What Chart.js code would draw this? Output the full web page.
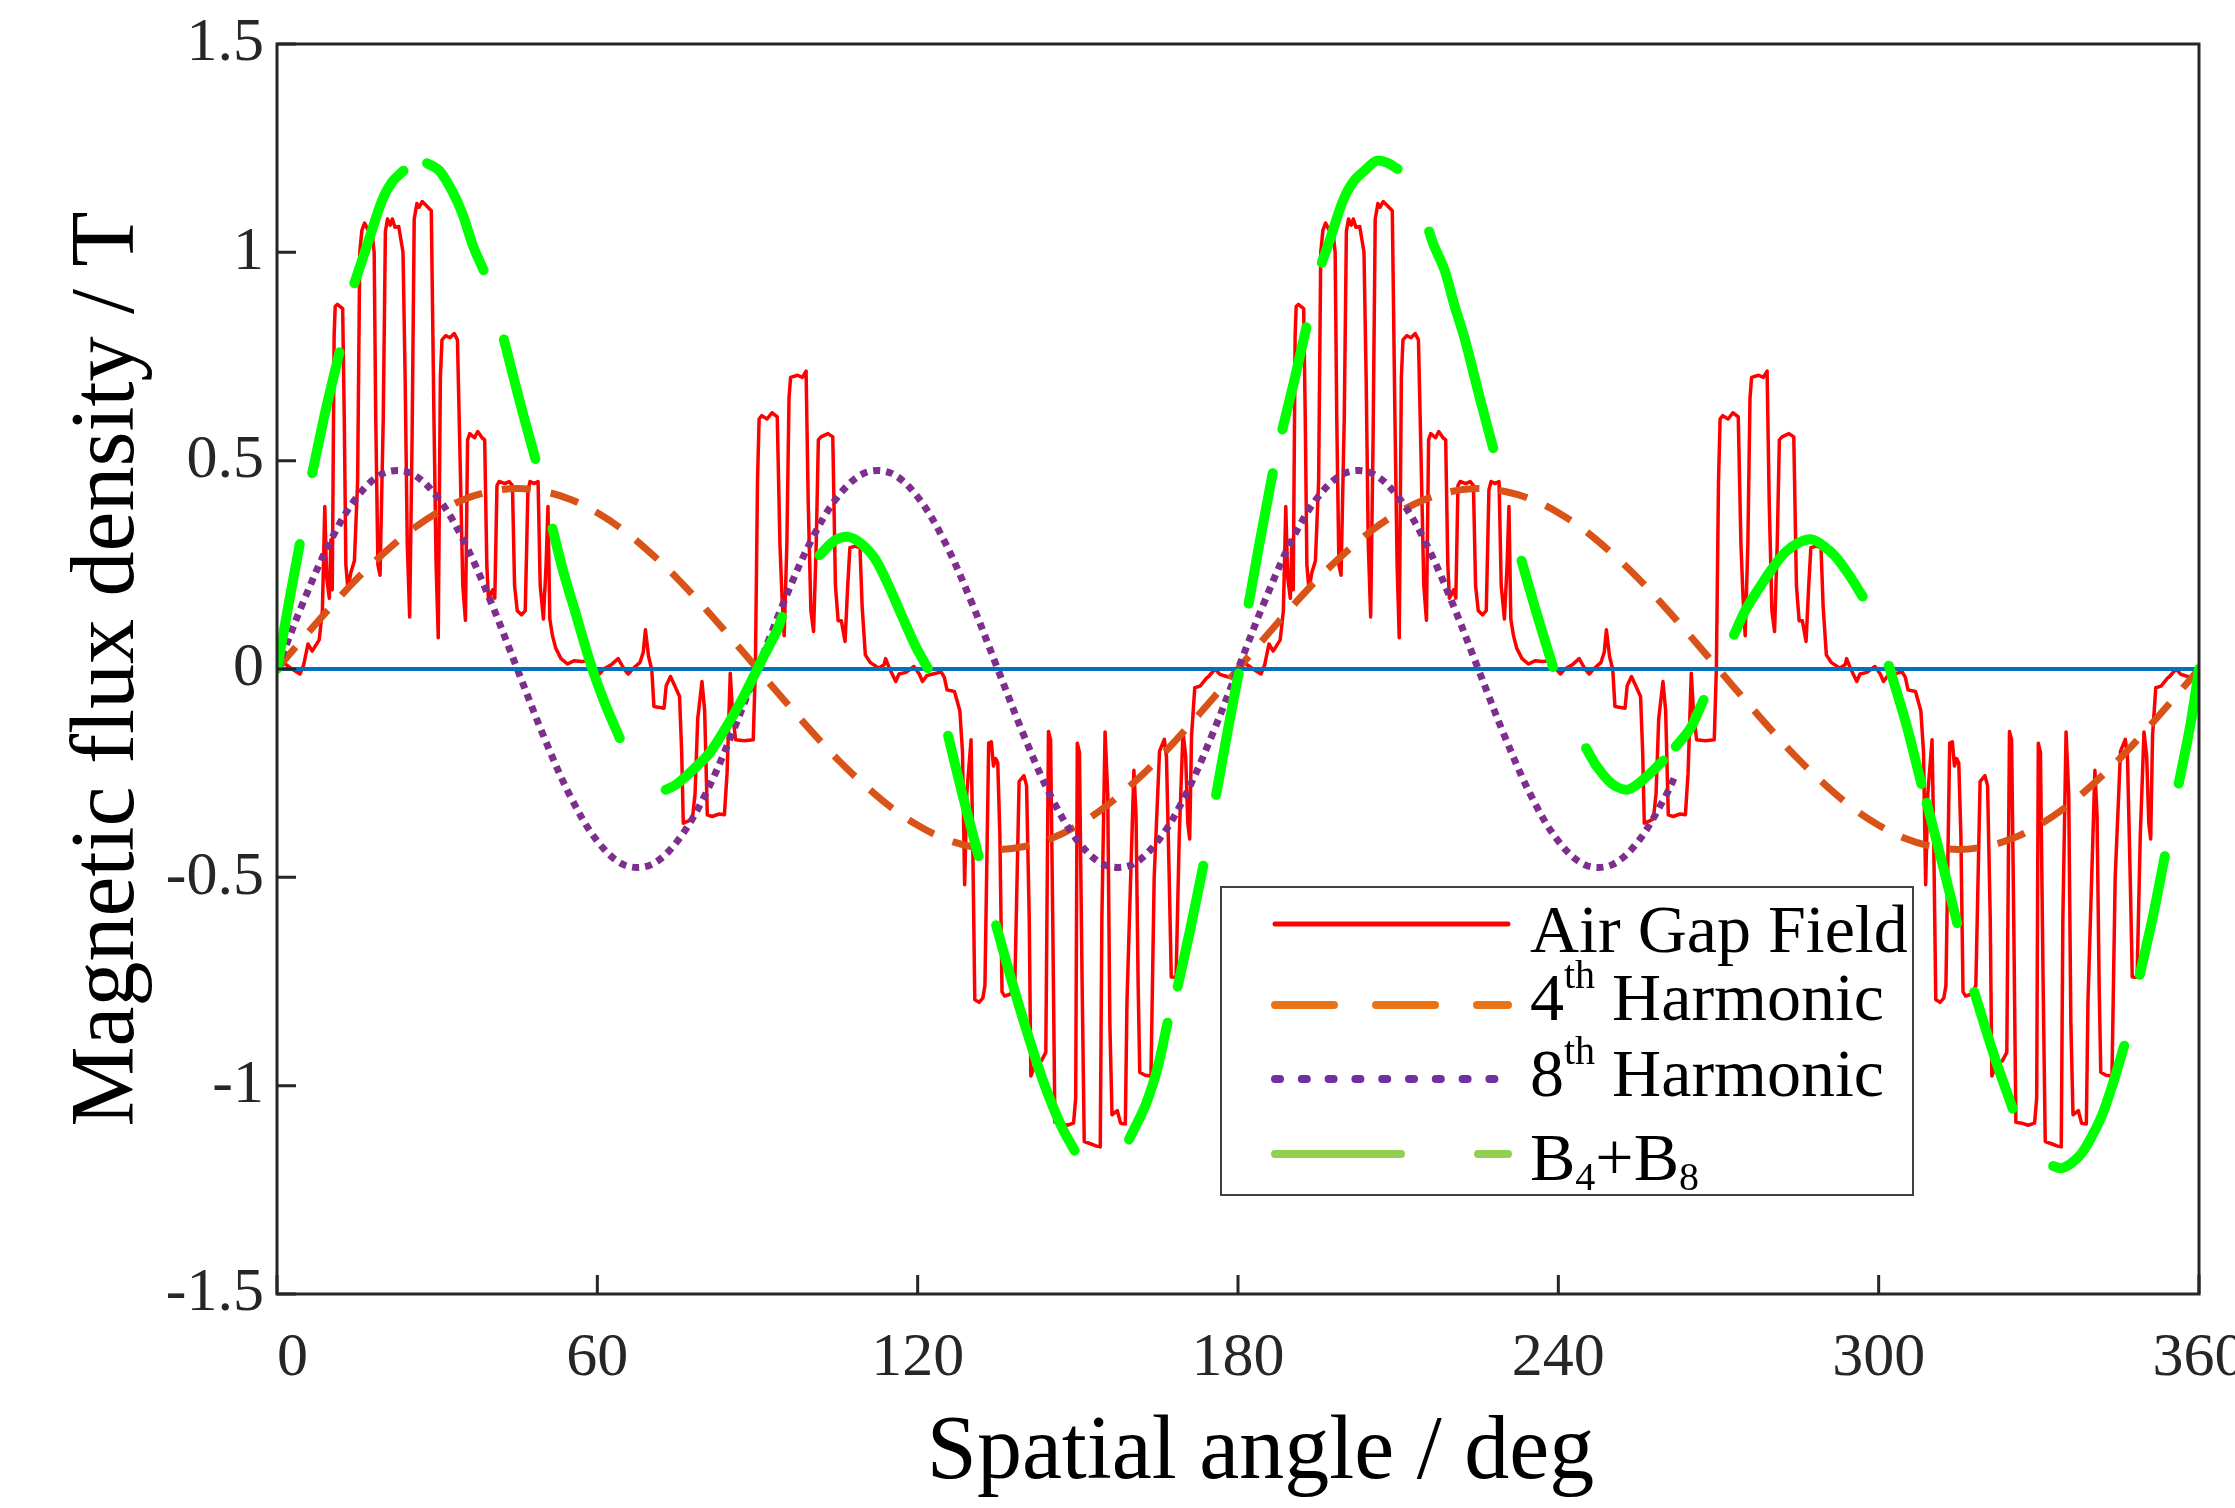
<!DOCTYPE html>
<html>
<head>
<meta charset="utf-8">
<title>Air gap flux density and harmonics</title>
<script src="https://cdn.jsdelivr.net/npm/chart.js@4.4.1/dist/chart.umd.min.js"></script>
<style>
  html, body { margin: 0; padding: 0; background: #fff; }
  #wrap { width: 2235px; height: 1508px; }
</style>
</head>
<body>
<div id="wrap"><canvas id="fluxChart" width="2235" height="1508"></canvas></div>
<script>
// spatial angle in deg, flux density in T
const xTicks = [0, 60, 120, 180, 240, 300, 360];
const yTicks = [-1.5, -1, -0.5, 0, 0.5, 1, 1.5];

// air gap field (0-180 then 180-360)
const gapAngle = [
  0,1.2,2.8,4.3,5,5.8,6.6,7.9,8.5,8.95,9.3,9.8,10.1,10.35,10.7,10.9,11.3,12.3,12.6,12.9,
  13.3,13.8,14.5,15.1,15.5,15.9,16.4,17,17.7,18.2,18.5,18.9,19.3,19.9,20.3,20.7,21.2,21.6,22.1,22.8,
  23.6,24,24.4,24.85,25.3,25.7,26.2,26.6,27.2,28,28.9,29.4,29.8,30.2,30.6,30.9,31.6,32.4,33.2,33.8,
  34.3,34.8,35.3,35.7,36.1,37,37.6,38.4,38.9,39.3,39.6,40.4,40.8,41.2,41.6,42.7,43.5,44.1,44.5,45,
  45.8,46.5,47,47.4,48.2,48.9,49.3,49.9,50.4,50.75,51.1,51.6,52.2,53.2,54.4,55.7,57,58.8,59.6,60.4,
  61.2,62.6,63.9,65,65.8,66.6,68,68.6,69,69.6,70.2,70.6,72.5,72.9,73.7,74.5,75.4,75.8,76.1,77,
  77.8,78.3,78.8,79.6,80.1,80.6,81.5,82.8,83.8,84.3,84.9,85.3,85.9,87.5,89.2,89.6,90,90.3,90.8,91.8,
  92.7,93.7,94.2,94.6,95,95.5,95.9,96.2,97.5,98.4,99.1,99.5,100,100.5,101,101.4,101.9,103.2,104.1,104.6,
  105.1,105.7,106.4,106.9,107.3,108.3,109.2,109.6,110.2,111.1,112.7,113.7,114,114.6,115.9,116.5,117.8,119.3,120.3,120.9,
  121.7,122.9,124.4,125,125.5,126.9,127.9,128.4,128.8,129.2,130,130.3,130.7,131.5,132.2,132.6,133.3,133.8,134.2,134.6,
  135,135.4,135.8,136.3,137.4,138.2,139,139.9,140.4,140.9,141.2,142,143.2,144,144.5,144.9,145.3,145.7,146.8,148,
  149.2,149.6,149.9,150.3,150.8,151.2,152.5,153.5,154.2,154.5,155.1,155.6,156,156.4,157.4,158,158.9,159.2,160.5,160.9,
  161.3,161.6,162.6,163.7,164.3,165.3,166.2,166.6,167.1,167.5,168.4,169,169.7,170.2,170.6,170.95,171.3,171.9,172.9,174.1,
  174.5,175.7,176.6,177.9,178.9,179.5,180,
  181.2,182.8,184.3,185,185.8,186.6,187.9,188.5,188.95,189.3,189.8,190.1,190.35,190.7,190.9,191.3,192.3,192.6,192.9,
  193.3,193.8,194.5,195.1,195.5,195.9,196.4,197,197.7,198.2,198.5,198.9,199.3,199.9,200.3,200.7,201.2,201.6,202.1,202.8,
  203.6,204,204.4,204.85,205.3,205.7,206.2,206.6,207.2,208,208.9,209.4,209.8,210.2,210.6,210.9,211.6,212.4,213.2,213.8,
  214.3,214.8,215.3,215.7,216.1,217,217.6,218.4,218.9,219.3,219.6,220.4,220.8,221.2,221.6,222.7,223.5,224.1,224.5,225,
  225.8,226.5,227,227.4,228.2,228.9,229.3,229.9,230.4,230.75,231.1,231.6,232.2,233.2,234.4,235.7,237,238.8,239.6,240.4,
  241.2,242.6,243.9,245,245.8,246.6,248,248.6,249,249.6,250.2,250.6,252.5,252.9,253.7,254.5,255.4,255.8,256.1,257,
  257.8,258.3,258.8,259.6,260.1,260.6,261.5,262.8,263.8,264.3,264.9,265.3,265.9,267.5,269.2,269.6,270,270.3,270.8,271.8,
  272.7,273.7,274.2,274.6,275,275.5,275.9,276.2,277.5,278.4,279.1,279.5,280,280.5,281,281.4,281.9,283.2,284.1,284.6,
  285.1,285.7,286.4,286.9,287.3,288.3,289.2,289.6,290.2,291.1,292.7,293.7,294,294.6,295.9,296.5,297.8,299.3,300.3,300.9,
  301.7,302.9,304.4,305,305.5,306.9,307.9,308.4,308.8,309.2,310,310.3,310.7,311.5,312.2,312.6,313.3,313.8,314.2,314.6,
  315,315.4,315.8,316.3,317.4,318.2,319,319.9,320.4,320.9,321.2,322,323.2,324,324.5,324.9,325.3,325.7,326.8,328,
  329.2,329.6,329.9,330.3,330.8,331.2,332.5,333.5,334.2,334.5,335.1,335.6,336,336.4,337.4,338,338.9,339.2,340.5,340.9,
  341.3,341.6,342.6,343.7,344.3,345.3,346.2,346.6,347.1,347.5,348.4,349,349.7,350.2,350.6,350.95,351.3,351.9,352.9,354.1,
  354.5,355.7,356.6,357.9,358.9,359.5,360
];
const gapField = [
  0,0.015,0,-0.012,0.01,0.06,0.043,0.07,0.14,0.39,0.22,0.17,0.31,0.19,0.8,0.87,0.875,0.865,0.6,0.25,
  0.19,0.23,0.26,0.45,1,1.053,1.07,1.055,1.06,1,0.6,0.25,0.225,0.6,1.05,1.08,1.065,1.08,1.06,1.062,
  1,0.7,0.3,0.125,0.55,1.08,1.117,1.108,1.122,1.112,1.1,0.6,0.25,0.075,0.7,0.79,0.8,0.795,0.805,0.79,
  0.5,0.2,0.117,0.55,0.565,0.555,0.57,0.555,0.55,0.25,0.17,0.19,0.17,0.44,0.45,0.445,0.45,0.44,0.2,0.14,
  0.13,0.14,0.43,0.45,0.445,0.45,0.2,0.12,0.25,0.39,0.12,0.08,0.05,0.025,0.012,0.02,0.018,0.02,0,-0.012,
  0,0.01,0.025,0,-0.012,0,0.016,0.04,0.094,0.03,-0.002,-0.09,-0.094,-0.04,-0.018,-0.04,-0.066,-0.2,-0.37,-0.365,
  -0.36,-0.3,-0.12,-0.03,-0.1,-0.35,-0.354,-0.348,-0.35,-0.25,-0.01,-0.1,-0.17,-0.172,-0.17,0,0.45,0.6,0.608,0.6,
  0.615,0.605,0.3,0.17,0.08,0.3,0.65,0.7,0.705,0.7,0.715,0.4,0.14,0.09,0.3,0.55,0.557,0.565,0.557,0.2,
  0.116,0.116,0.066,0.2,0.291,0.295,0.291,0.15,0.034,0.016,0.002,0.01,0.025,0.005,-0.03,-0.012,-0.008,0.006,-0.012,-0.03,
  -0.016,-0.012,-0.007,-0.02,-0.05,-0.054,-0.1,-0.2,-0.518,-0.3,-0.17,-0.4,-0.794,-0.8,-0.79,-0.76,-0.178,-0.175,-0.233,-0.215,
  -0.225,-0.4,-0.775,-0.785,-0.78,-0.76,-0.27,-0.256,-0.28,-0.6,-0.977,-0.95,-0.94,-0.92,-0.15,-0.17,-0.6,-1.088,-1.09,-1.095,
  -1.09,-1.03,-0.178,-0.2,-0.75,-1.134,-1.14,-1.145,-1.147,-0.6,-0.151,-0.3,-0.85,-1.07,-1.06,-1.09,-1.092,-0.8,-0.243,-0.35,
  -0.76,-0.968,-0.975,-0.977,-0.5,-0.197,-0.169,-0.21,-0.49,-0.739,-0.74,-0.4,-0.151,-0.21,-0.371,-0.408,-0.16,-0.045,-0.041,-0.022,
  -0.018,0,-0.013,-0.018,-0.022,-0.008,0,
  0.015,0,-0.012,0.01,0.06,0.043,0.07,0.14,0.39,0.22,0.17,0.31,0.19,0.8,0.87,0.875,0.865,0.6,0.25,
  0.19,0.23,0.26,0.45,1,1.053,1.07,1.055,1.06,1,0.6,0.25,0.225,0.6,1.05,1.08,1.065,1.08,1.06,1.062,
  1,0.7,0.3,0.125,0.55,1.08,1.117,1.108,1.122,1.112,1.1,0.6,0.25,0.075,0.7,0.79,0.8,0.795,0.805,0.79,
  0.5,0.2,0.117,0.55,0.565,0.555,0.57,0.555,0.55,0.25,0.17,0.19,0.17,0.44,0.45,0.445,0.45,0.44,0.2,0.14,
  0.13,0.14,0.43,0.45,0.445,0.45,0.2,0.12,0.25,0.39,0.12,0.08,0.05,0.025,0.012,0.02,0.018,0.02,0,-0.012,
  0,0.01,0.025,0,-0.012,0,0.016,0.04,0.094,0.03,-0.002,-0.09,-0.094,-0.04,-0.018,-0.04,-0.066,-0.2,-0.37,-0.365,
  -0.36,-0.3,-0.12,-0.03,-0.1,-0.35,-0.354,-0.348,-0.35,-0.25,-0.01,-0.1,-0.17,-0.172,-0.17,0,0.45,0.6,0.608,0.6,
  0.615,0.605,0.3,0.17,0.08,0.3,0.65,0.7,0.705,0.7,0.715,0.4,0.14,0.09,0.3,0.55,0.557,0.565,0.557,0.2,
  0.116,0.116,0.066,0.2,0.291,0.295,0.291,0.15,0.034,0.016,0.002,0.01,0.025,0.005,-0.03,-0.012,-0.008,0.006,-0.012,-0.03,
  -0.016,-0.012,-0.007,-0.02,-0.05,-0.054,-0.1,-0.2,-0.518,-0.3,-0.17,-0.4,-0.794,-0.8,-0.79,-0.76,-0.178,-0.175,-0.233,-0.215,
  -0.225,-0.4,-0.775,-0.785,-0.78,-0.76,-0.27,-0.256,-0.28,-0.6,-0.977,-0.95,-0.94,-0.92,-0.15,-0.17,-0.6,-1.088,-1.09,-1.095,
  -1.09,-1.03,-0.178,-0.2,-0.75,-1.134,-1.14,-1.145,-1.147,-0.6,-0.151,-0.3,-0.85,-1.07,-1.06,-1.09,-1.092,-0.8,-0.243,-0.35,
  -0.76,-0.968,-0.975,-0.977,-0.5,-0.197,-0.169,-0.21,-0.49,-0.739,-0.74,-0.4,-0.151,-0.21,-0.371,-0.408,-0.16,-0.045,-0.041,-0.022,
  -0.018,0,-0.013,-0.018,-0.022,-0.008,0
];

// 4th harmonic (orange dashed), every 5 deg
const harmAngle = [
  0,5,10,15,20,25,30,35,40,45,50,55,60,65,70,75,80,85,90,95,100,105,110,115,120,125,130,135,140,145,150,155,160,165,170,175,
  180,185,190,195,200,205,210,215,220,225,230,235,240,245,250,255,260,265,270,275,280,285,290,295,300,305,310,315,320,325,330,335,340,345,350,355,360
];
const harm4 = [
  0,0.075,0.148,0.217,0.278,0.332,0.375,0.407,0.426,0.433,0.426,0.407,0.375,0.332,0.278,0.217,0.148,0.075,
  0,-0.075,-0.148,-0.217,-0.278,-0.332,-0.375,-0.407,-0.426,-0.433,-0.426,-0.407,-0.375,-0.332,-0.278,-0.217,-0.148,-0.075,
  0,0.075,0.148,0.217,0.278,0.332,0.375,0.407,0.426,0.433,0.426,0.407,0.375,0.332,0.278,0.217,0.148,0.075,
  0,-0.075,-0.148,-0.217,-0.278,-0.332,-0.375,-0.407,-0.426,-0.433,-0.426,-0.407,-0.375,-0.332,-0.278,-0.217,-0.148,-0.075,0
];

// 8th harmonic (purple dotted), the trace stops near 262 deg
const harm8Angle = [
  0,5,10,15,20,25,30,35,40,45,50,55,60,65,70,75,80,85,90,95,100,105,110,115,120,125,130,135,140,145,150,155,160,165,170,175,
  180,185,190,195,200,205,210,215,220,225,230,235,240,245,250,255,260,262
];
const harm8 = [
  0,0.163,0.307,0.413,0.47,0.47,0.413,0.307,0.163,0,-0.163,-0.307,-0.413,-0.47,-0.47,-0.413,-0.307,-0.163,
  0,0.163,0.307,0.413,0.47,0.47,0.413,0.307,0.163,0,-0.163,-0.307,-0.413,-0.47,-0.47,-0.413,-0.307,-0.163,
  0,0.163,0.307,0.413,0.47,0.47,0.413,0.307,0.163,0,-0.163,-0.307,-0.413,-0.47,-0.47,-0.413,-0.307,-0.253
];

// B4+B8 (green long dash); null marks a gap between dashes
const sumAngle = [
  0,2.1,4.26,5.4,6.6,9.1,11.7,13.1,14.5,17.1,19.6,21.5,23.7,25.9,28.1,30.4,32.9,34.8,36.7,38.7,40.6,
  42.5,45.5,48.4,50,51.6,53.6,55.7,58.8,61.4,64.2,68.5,72.8,74.7,77.9,81,84.2,87.4,90.5,93.7,94.6,98,
  101.6,104.5,107,109.5,112.1,114.6,117.1,119.7,121.9,123.8,125.7,128.5,131.4,133,
  134.7,137.4,140.6,143.7,146.9,149.4,154.5,159.6,162.7,164.9,166.8,167.8,168.7,171,173.5,174.7,175.9,177.9,180.1,181,
  182,184,186.5,187.4,188.3,190.5,192.8,194.2,195.7,197.1,199.6,201.5,203.7,206,208.1,209.9,213,
  215.8,216.7,218.7,220.6,222.5,225.5,227.8,230.5,233.1,235.7,239,242,245.2,247,250,252.8,254.7,257.9,259.6,260.8,
  262,264.7,267.2,270,
  272.9,275,277.3,280,282.4,285,287.5,289.7,291.9,294.5,297,299.5,301.9,305.2,308,308.5,309,312.2,314.7,316.3,
  317.9,321.7,325.1,329,332.7,334.3,336.2,338.1,340,341.9,344,346,347.5,348.9,351.4,353.6,355,356.2,358.4,360
];
const sumField = [
  0,0.15,0.3,null,0.47,0.62,0.76,null,0.926,1.026,1.122,1.168,1.196,null,1.214,1.196,1.145,1.09,1.016,0.957,null,
  0.791,0.64,0.504,null,0.337,0.235,0.144,0.01,-0.082,-0.166,null,-0.29,-0.278,-0.242,-0.202,-0.138,-0.066,0.014,0.094,0.125,null,
  0.273,0.309,0.317,0.3,0.263,0.199,0.126,0.052,0.002,null,-0.16,-0.307,-0.449,null,
  -0.615,-0.739,-0.876,-0.996,-1.097,-1.156,null,-1.129,-1.046,-0.959,-0.849,null,-0.762,-0.628,-0.472,null,-0.302,-0.16,-0.011,null,
  0.157,0.3,0.47,null,0.575,0.69,0.82,null,0.975,1.026,1.122,1.168,1.196,1.22,1.214,1.2,null,
  1.05,1.016,0.957,0.87,0.791,0.64,0.53,null,0.26,0.144,0.005,null,-0.19,-0.23,-0.275,-0.29,-0.278,-0.242,-0.22,null,
  -0.186,-0.143,-0.074,null,
  0.082,0.14,0.188,0.24,0.279,0.303,0.311,0.295,0.27,0.225,0.174,null,0.008,-0.134,-0.276,null,-0.321,-0.481,-0.61,null,
  -0.775,-0.931,-1.055,null,-1.193,-1.198,-1.185,-1.161,-1.12,-1.069,-0.99,-0.904,null,-0.734,-0.592,-0.449,null,-0.275,-0.133,0
];

// zero reference (thin blue trace)
const zeroAngle = [0, 360];
const zeroLine = [0, 0];

const serif = '"Liberation Serif", "Times New Roman", serif';
const axisGrey = '#262626';

function pts(xs, ys) {
  return xs.map((x, i) => ({ x: x, y: ys[i] }));
}

// box, inward ticks and the hand-made legend
const framePlugin = {
  id: 'frame',
  afterDraw(chart) {
    const ctx = chart.ctx;
    const a = chart.chartArea;
    const sx = chart.scales.x, sy = chart.scales.y;
    ctx.save();
    ctx.strokeStyle = axisGrey;
    ctx.lineWidth = 3;
    ctx.strokeRect(a.left, a.top, a.right - a.left, a.bottom - a.top);
    ctx.beginPath();
    xTicks.forEach(v => {
      const px = sx.getPixelForValue(v);
      ctx.moveTo(px, a.bottom);
      ctx.lineTo(px, a.bottom - 19);
    });
    yTicks.forEach(v => {
      const py = sy.getPixelForValue(v);
      ctx.moveTo(a.left, py);
      ctx.lineTo(a.left + 19, py);
    });
    ctx.stroke();

    // legend
    const box = { x: 1221, y: 887, w: 692, h: 308 };
    ctx.fillStyle = '#fff';
    ctx.fillRect(box.x, box.y, box.w, box.h);
    ctx.strokeStyle = '#404040';
    ctx.lineWidth = 2;
    ctx.strokeRect(box.x, box.y, box.w, box.h);

    const rows = [
      { color: '#ff0000', width: 5, dash: [], lineY: 924, baseY: 952, parts: [['Air Gap Field', 'n']] },
      { color: '#ea7415', width: 8, dash: [59, 42], lineY: 1005, baseY: 1020, parts: [['4', 'n'], ['th', 'sup'], [' Harmonic', 'n']] },
      { color: '#7030a0', width: 8, dash: [5, 21.8], lineY: 1079, baseY: 1096, parts: [['8', 'n'], ['th', 'sup'], [' Harmonic', 'n']] },
      { color: '#92d050', width: 8, dash: [126, 77], lineY: 1154, baseY: 1180, parts: [['B', 'n'], ['4', 'sub'], ['+B', 'n'], ['8', 'sub']] }
    ];
    rows.forEach(r => {
      ctx.beginPath();
      ctx.strokeStyle = r.color;
      ctx.lineWidth = r.width;
      ctx.lineCap = 'round';
      ctx.setLineDash(r.dash);
      ctx.moveTo(1275, r.lineY);
      ctx.lineTo(1508, r.lineY);
      ctx.stroke();
      ctx.setLineDash([]);

      let tx = 1530;
      ctx.fillStyle = '#000';
      ctx.textAlign = 'left';
      ctx.textBaseline = 'alphabetic';
      r.parts.forEach(([txt, kind]) => {
        let y = r.baseY;
        if (kind === 'n') {
          ctx.font = '68px ' + serif;
        } else {
          ctx.font = '40px ' + serif;
          y = kind === 'sup' ? r.baseY - 32 : r.baseY + 10;
        }
        ctx.fillText(txt, tx, y);
        tx += ctx.measureText(txt).width;
      });
    });
    ctx.restore();
  }
};

const ctx = document.getElementById('fluxChart').getContext('2d');
new Chart(ctx, {
  type: 'line',
  data: {
    datasets: [
      { label: 'Air Gap Field', data: pts(gapAngle, gapField), borderColor: '#ff0000', borderWidth: 3.5, order: 5 },
      { label: '4th Harmonic', data: pts(harmAngle, harm4), borderColor: '#d95319', borderWidth: 7,
        borderDash: [29, 20], borderCapStyle: 'butt', tension: 0.35, order: 4 },
      { label: '8th Harmonic', data: pts(harm8Angle, harm8), borderColor: '#7e2f8e', borderWidth: 7,
        borderDash: [7, 6], borderCapStyle: 'butt', tension: 0.35, order: 3 },
      { label: 'zero', data: pts(zeroAngle, zeroLine), borderColor: '#0072bd', borderWidth: 4, order: 2 },
      { label: 'B4+B8', data: pts(sumAngle, sumField), borderColor: '#00ff00', borderWidth: 10,
        borderCapStyle: 'round', spanGaps: false, tension: 0.3, order: 1 }
    ]
  },
  options: {
    responsive: false,
    animation: false,
    devicePixelRatio: 1,
    layout: { padding: { top: 44, right: 36, left: 0, bottom: 0 } },
    elements: { point: { radius: 0, hoverRadius: 0 }, line: { fill: false, borderJoinStyle: 'round' } },
    plugins: { legend: { display: false }, tooltip: { enabled: false } },
    scales: {
      x: {
        type: 'linear', min: 0, max: 360,
        afterBuildTicks: s => { s.ticks = xTicks.map(v => ({ value: v })); },
        grid: { display: false, drawTicks: false },
        border: { display: false },
        ticks: {
          font: { family: serif, size: 62 }, color: axisGrey, padding: 28,
          maxRotation: 0, autoSkip: false,
          callback: v => (v === 0 ? '\u00a0\u00a00' : String(v))
        },
        title: { display: true, text: '\u00a0\u00a0Spatial angle / deg', color: '#000',
          font: { family: serif, size: 90 }, padding: { top: 0, bottom: 0 } },
        afterFit: s => { s.height = 214; s.paddingLeft = 0; s.paddingRight = 0; }
      },
      y: {
        type: 'linear', min: -1.5, max: 1.5,
        afterBuildTicks: s => { s.ticks = yTicks.map(v => ({ value: v })); },
        grid: { display: false, drawTicks: false },
        border: { display: false },
        ticks: {
          font: { family: serif, size: 62 }, color: axisGrey, padding: 13,
          callback: v => String(v)
        },
        title: { display: true, text: 'Magnetic flux density / T', color: '#000',
          font: { family: serif, size: 90 }, padding: { top: 55, bottom: 0 } },
        afterFit: s => { s.width = 277; s.paddingTop = 0; s.paddingBottom = 0; }
      }
    }
  },
  plugins: [framePlugin]
});
</script>
</body>
</html>
